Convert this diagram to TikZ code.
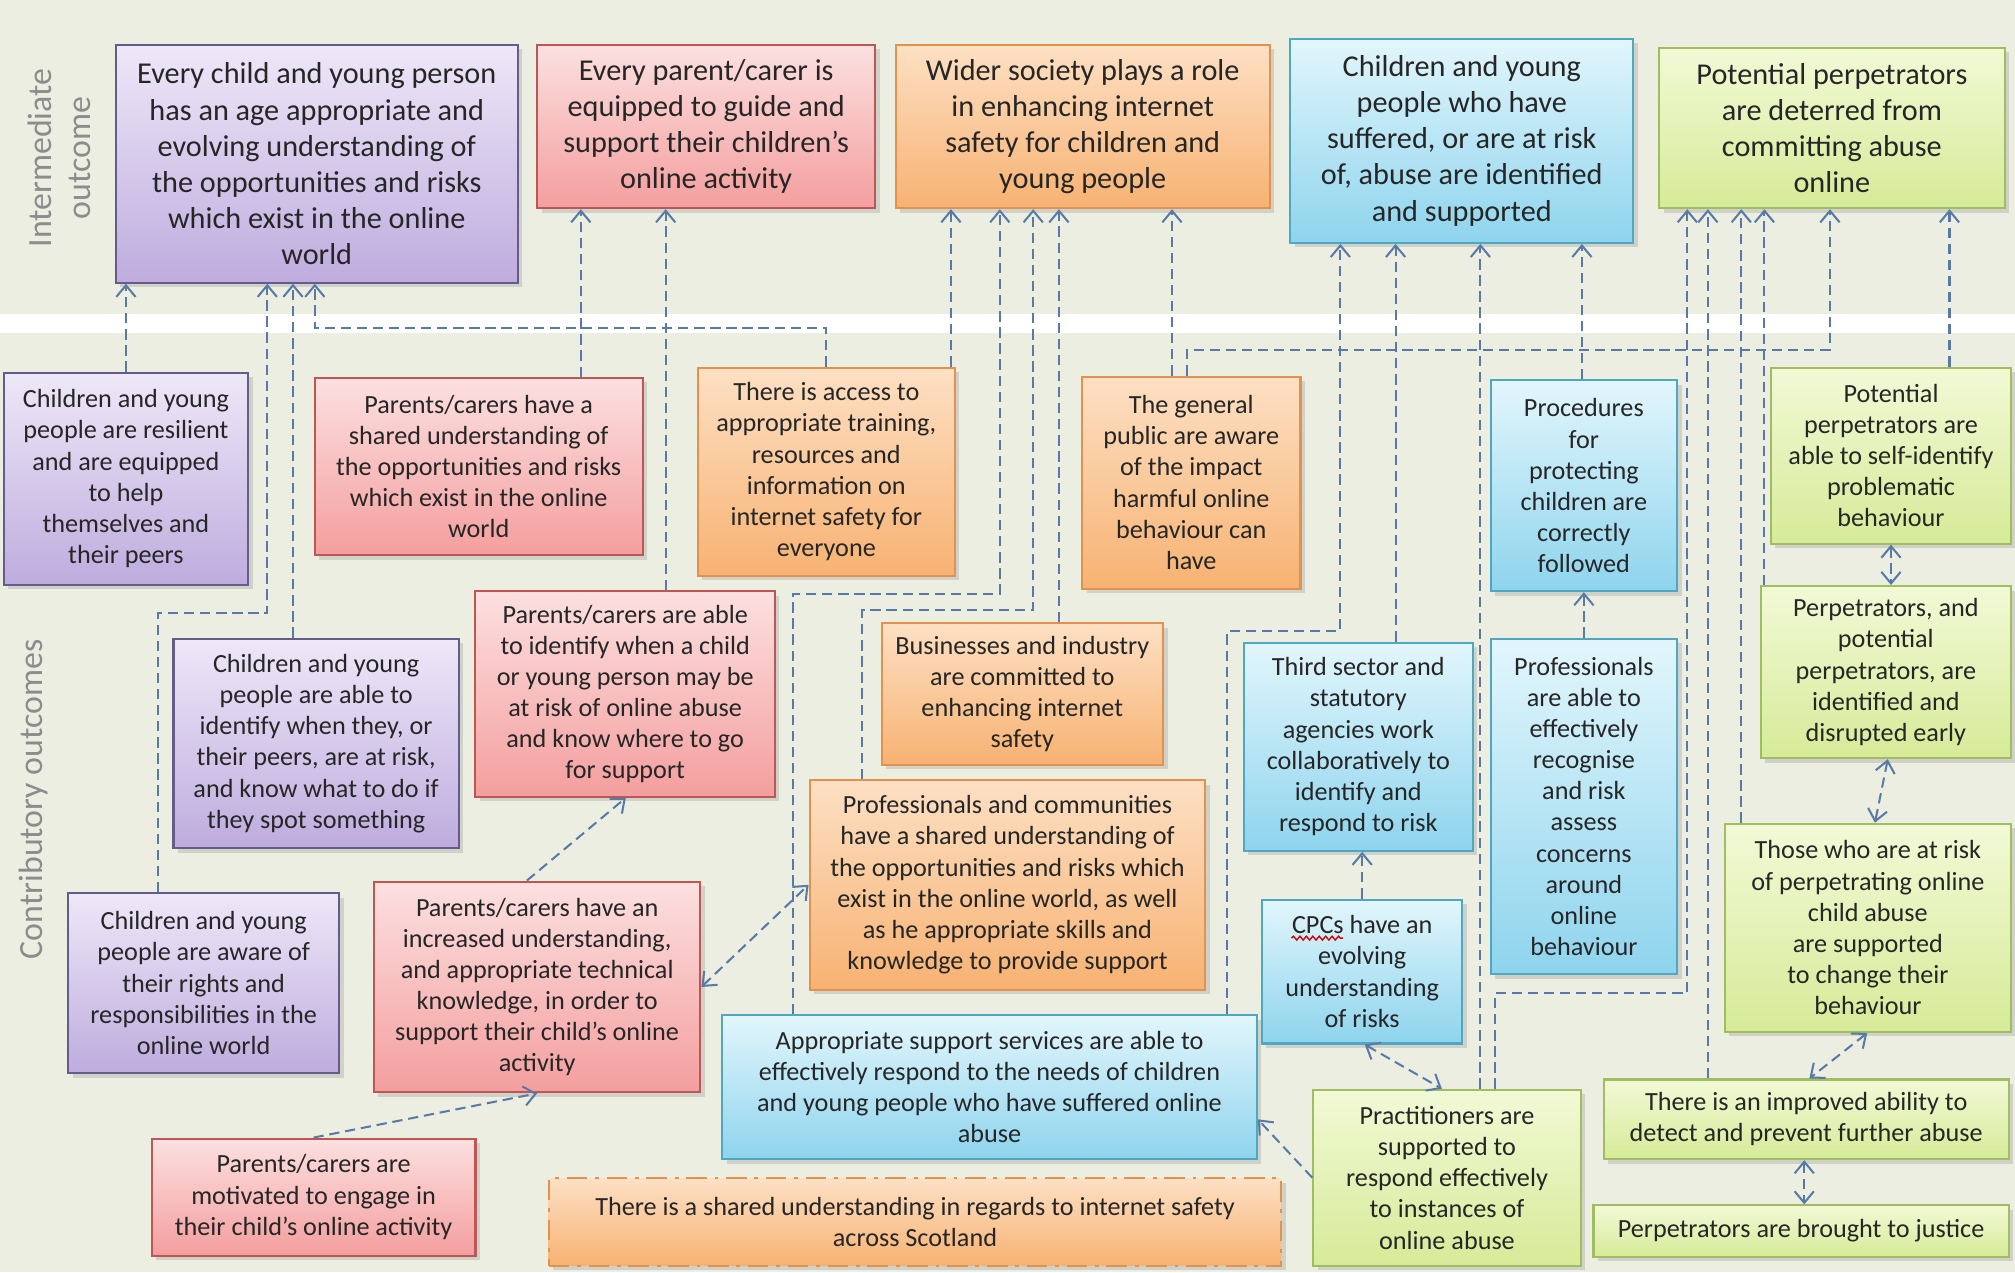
\documentclass[tikz,border=0pt]{standalone}
\usepackage{fontspec}
\setmainfont{Carlito}
\usetikzlibrary{arrows.meta,shadows,decorations.pathmorphing}
\definecolor{bg}{RGB}{236,238,226}
\definecolor{linkcol}{RGB}{88,122,165}
\definecolor{lblgray}{RGB}{140,140,140}
\definecolor{childline}{RGB}{100,92,140}
\definecolor{childtop}{RGB}{238,232,248}
\definecolor{childbot}{RGB}{190,172,222}
\definecolor{parentline}{RGB}{190,86,84}
\definecolor{parenttop}{RGB}{252,224,224}
\definecolor{parentbot}{RGB}{244,158,158}
\definecolor{socline}{RGB}{226,146,76}
\definecolor{soctop}{RGB}{253,224,196}
\definecolor{socbot}{RGB}{247,178,114}
\definecolor{vicline}{RGB}{78,168,196}
\definecolor{victop}{RGB}{226,246,252}
\definecolor{vicbot}{RGB}{142,212,237}
\definecolor{perpline}{RGB}{160,190,96}
\definecolor{perptop}{RGB}{242,249,214}
\definecolor{perpbot}{RGB}{214,235,152}
\begin{document}
\begin{tikzpicture}[x=1mm,y=-1mm,
  box/.style={draw,align=center,inner sep=0.4mm,text=black!85,line width=0.45pt,
    font=\fontsize{5.8}{6.9}\selectfont,
    drop shadow={shadow xshift=0.35mm,shadow yshift=-0.35mm,opacity=0.25}},
  big/.style={font=\fontsize{6.7}{8}\selectfont},
  sz/.style 2 args={minimum width=#1mm,minimum height=#2mm},
  childbox/.style={box,draw=childline,top color=childtop,bottom color=childbot},
  parentbox/.style={box,draw=parentline,top color=parenttop,bottom color=parentbot},
  socbox/.style={box,draw=socline,top color=soctop,bottom color=socbot},
  vicbox/.style={box,draw=vicline,top color=victop,bottom color=vicbot},
  perpbox/.style={box,draw=perpline,top color=perptop,bottom color=perpbot},
  lbl/.style={text=lblgray,align=center,rotate=90,font=\fontsize{7.5}{8.6}\selectfont},
  link/.style={draw=linkcol,line width=0.45pt,dash pattern=on 0.8mm off 0.45mm,
    -{Straight Barb[length=0.9mm,width=1.5mm]}},
  both/.style={link,{Straight Barb[length=0.9mm,width=1.5mm]}-{Straight Barb[length=0.9mm,width=1.5mm]}}]
\fill[bg] (0,0) rectangle (156.8,99);
\fill[white] (0,24.4) rectangle (156.8,25.9);
\useasboundingbox (0,0) rectangle (156.8,99);
\node[lbl] (intlbl) at (4.6,12.3) {Intermediate\\outcome};
\node[lbl] (conlbl) at (2.6,62.2) {Contributory outcomes};
\node[childbox,big,sz={31.3}{18.5}] (childout) at (24.65,12.75) {Every child and young person\\has an age appropriate and\\evolving understanding of\\the opportunities and risks\\which exist in the online\\world};
\node[parentbox,big,sz={26.3}{12.7}] (parentout) at (54.95,9.85) {Every parent/carer is\\equipped to guide and\\support their children’s\\online activity};
\node[socbox,big,sz={29.1}{12.7}] (socout) at (84.25,9.85) {Wider society plays a role\\in enhancing internet\\safety for children and\\young people};
\node[vicbox,big,sz={26.7}{15.9}] (vicout) at (113.75,10.95) {Children and young\\people who have\\suffered, or are at risk\\of, abuse are identified\\and supported};
\node[perpbox,big,sz={26.9}{12.5}] (perpout) at (142.55,9.95) {Potential perpetrators\\are deterred from\\committing abuse\\online};
\node[childbox,sz={19}{16.5}] (resilient) at (9.8,37.25) {Children and young\\people are resilient\\and are equipped\\to help\\themselves and\\their peers};
\node[childbox,sz={22.2}{16.3}] (identify) at (24.6,57.85) {Children and young\\people are able to\\identify when they, or\\their peers, are at risk,\\and know what to do if\\they spot something};
\node[childbox,sz={21.1}{14}] (rights) at (15.85,76.5) {Children and young\\people are aware of\\their rights and\\responsibilities in the\\online world};
\node[parentbox,sz={25.5}{13.8}] (pshared) at (37.25,36.3) {Parents/carers have a\\shared understanding of\\the opportunities and risks\\which exist in the online\\world};
\node[parentbox,sz={23.3}{16}] (pable) at (48.65,54) {Parents/carers are able\\to identify when a child\\or young person may be\\at risk of online abuse\\and know where to go\\for support};
\node[parentbox,sz={25.4}{16.4}] (ptech) at (41.8,76.8) {Parents/carers have an\\increased understanding,\\and appropriate technical\\knowledge, in order to\\support their child’s online\\activity};
\node[parentbox,sz={25.2}{9.1}] (pmotiv) at (24.4,93.15) {Parents/carers are\\motivated to engage in\\their child’s online activity};
\node[socbox,sz={20}{16.2}] (access) at (64.3,36.7) {There is access to\\appropriate training,\\resources and\\information on\\internet safety for\\everyone};
\node[socbox,sz={17}{16.5}] (public) at (92.7,37.55) {The general\\public are aware\\of the impact\\harmful online\\behaviour can\\have};
\node[socbox,sz={21.9}{11}] (business) at (79.55,54) {Businesses and industry\\are committed to\\enhancing internet\\safety};
\node[socbox,sz={30.8}{16.3}] (profcomm) at (78.4,68.85) {Professionals and communities\\have a shared understanding of\\the opportunities and risks which\\exist in the online world, as well\\as he appropriate skills and\\knowledge to provide support};
\node[socbox,sz={57}{6.8},dash pattern=on 1.6mm off 0.6mm on 0.3mm off 0.6mm] (scotland) at (71.2,95.1) {There is a shared understanding in regards to internet safety\\across Scotland};
\node[vicbox,sz={14.5}{16.4}] (procedures) at (123.25,37.8) {Procedures\\for\\protecting\\children are\\correctly\\followed};
\node[vicbox,sz={17.8}{16.2}] (thirdsector) at (105.7,58.1) {Third sector and\\statutory\\agencies work\\collaboratively to\\identify and\\respond to risk};
\node[vicbox,sz={14.5}{26.1}] (profrisk) at (123.25,62.75) {Professionals\\are able to\\effectively\\recognise\\and risk\\assess\\concerns\\around\\online\\behaviour};
\node[vicbox,sz={15.6}{11.2}] (cpcs) at (106,75.6) {CPCs have an\\evolving\\understanding\\of risks};
\node[vicbox,sz={41.6}{11.2}] (support) at (77,84.6) {Appropriate support services are able to\\effectively respond to the needs of children\\and young people who have suffered online\\abuse};
\node[perpbox,sz={18.7}{13.7}] (selfid) at (147.15,35.45) {Potential\\perpetrators are\\able to self-identify\\problematic\\behaviour};
\node[perpbox,sz={19.5}{13.4}] (disrupt) at (146.75,52.3) {Perpetrators, and\\potential\\perpetrators, are\\identified and\\disrupted early};
\node[perpbox,sz={22.3}{16.2}] (atrisk) at (145.35,72.2) {Those who are at risk\\of perpetrating online\\child abuse\\are supported\\to change their\\behaviour};
\node[perpbox,sz={20.8}{13.7}] (practit) at (112.6,91.65) {Practitioners are\\supported to\\respond effectively\\to instances of\\online abuse};
\node[perpbox,sz={31.5}{6.2}] (detect) at (140.55,87.1) {There is an improved ability to\\detect and prevent further abuse};
\node[perpbox,sz={32.3}{4}] (justice) at (140.15,95.8) {Perpetrators are brought to justice};
\draw[red!80!black,line width=0.3pt,decorate,decoration={snake,amplitude=0.15mm,segment length=0.5mm}] ([xshift=-5.5mm,yshift=2.6mm]cpcs.center) -- ++(4,0);
\draw[link] (resilient.north) -- (resilient.north |- childout.south);
\draw[link] (22.8,0 |- identify.north) -- (22.8,0 |- childout.south);
\draw[link] (12.3,0 |- rights.north) |- (20.8,47.7) -- (20.8,0 |- childout.south);
\draw[link] (access.north) |- (24.5,25.5) -- (24.5,0 |- childout.south);
\draw[link] (45.2,0 |- pshared.north) -- (45.2,0 |- parentout.south);
\draw[link] (51.8,0 |- pable.north) -- (51.8,0 |- parentout.south);
\draw[link] (74,0 |- access.north) -- (74,0 |- socout.south);
\draw[link] (61.7,0 |- support.north) |- (77.8,46.2) -- (77.8,0 |- socout.south);
\draw[link] (67.1,0 |- profcomm.north) |- (80.4,47.5) -- (80.4,0 |- socout.south);
\draw[link] (82.4,0 |- business.north) -- (82.4,0 |- socout.south);
\draw[link] (91.2,0 |- public.north) -- (91.2,0 |- socout.south);
\draw[link] (95.5,0 |- support.north) |- (104.3,49.1) -- (104.3,0 |- vicout.south);
\draw[link] (108.6,0 |- thirdsector.north) -- (108.6,0 |- vicout.south);
\draw[link] (115.2,0 |- practit.north) -- (115.2,0 |- vicout.south);
\draw[link] (123.1,0 |- procedures.north) -- (123.1,0 |- vicout.south);
\draw[link] (profrisk.north) -- (procedures.south);
\draw[link] (92.4,0 |- public.north) |- (142.4,27.2) -- (142.4,0 |- perpout.south);
\draw[link] (151.7,0 |- selfid.north) -- (151.7,0 |- perpout.south);
\draw[link] (116.3,0 |- practit.north) |- (131.3,77.3) -- (131.3,0 |- perpout.south);
\draw[link] (132.9,0 |- detect.north) -- (132.9,0 |- perpout.south);
\draw[link] (135.5,0 |- atrisk.north) -- (135.5,0 |- perpout.south);
\draw[link] (137.3,0 |- disrupt.north) -- (137.3,0 |- perpout.south);
\draw[both] (selfid.south) -- (selfid.south |- disrupt.north);
\draw[both] (146.9,0 |- disrupt.south) -- (145.9,0 |- atrisk.north);
\draw[both] (145.3,0 |- atrisk.south) -- (140.8,0 |- detect.north);
\draw[both] (140.4,0 |- detect.south) -- (140.4,0 |- justice.north);
\draw[link] (cpcs.north) -- (cpcs.north |- thirdsector.south);
\draw[both] (106.2,0 |- cpcs.south) -- (112.2,0 |- practit.north);
\draw[link] (practit.west) -- (support.east |- 0,87.1);
\draw[link] (41,0 |- ptech.north) -- (48.7,0 |- pable.south);
\draw[link] (pmotiv.north) -- (41.8,0 |- ptech.south);
\draw[both] (ptech.east) -- (profcomm.west);
\end{tikzpicture}
\end{document}
